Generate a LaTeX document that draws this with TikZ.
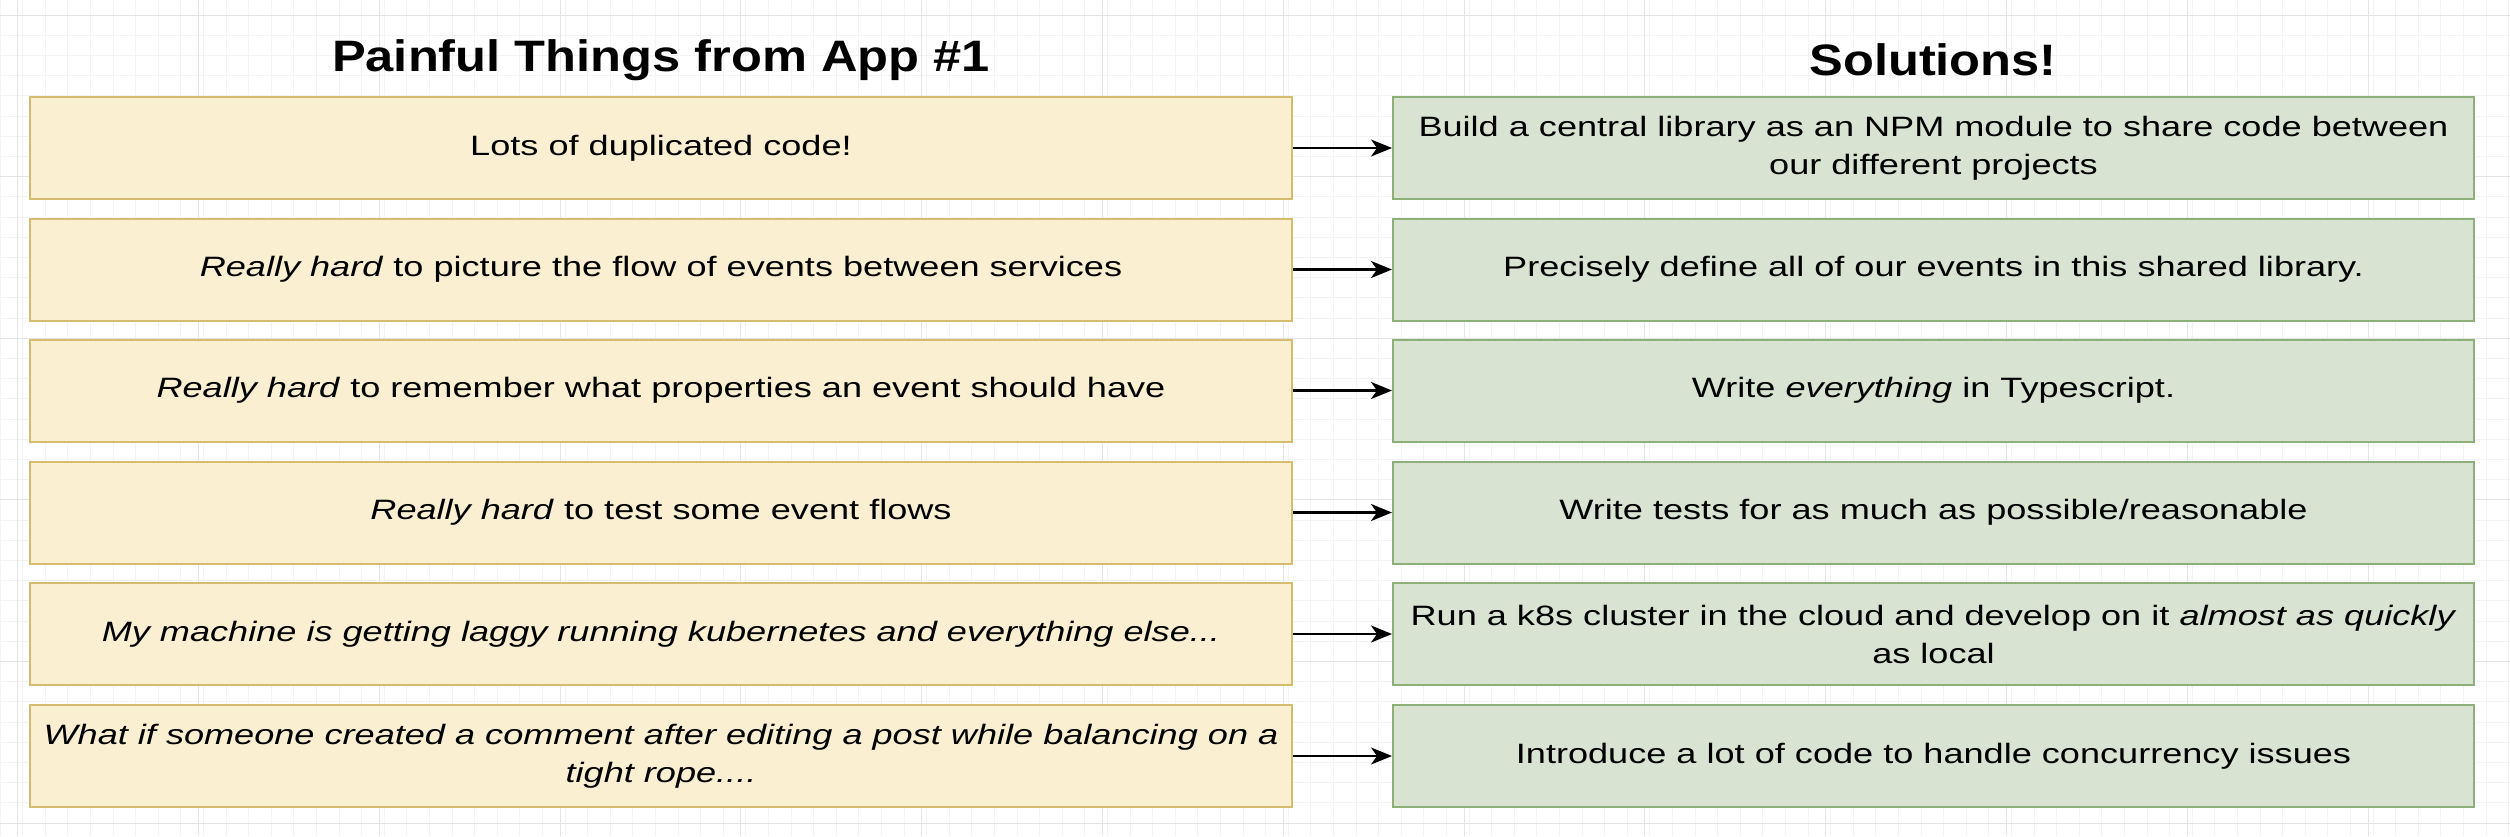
\documentclass[tikz,border=0pt]{standalone}
\usepackage{fontspec}
\setmainfont{Liberation Sans}[FakeStretch=1.29]
\newfontfamily\headfont{Liberation Sans}[FakeStretch=1.15]
\usetikzlibrary{arrows.meta}
\definecolor{yfill}{HTML}{FBEFD1}
\definecolor{ystroke}{HTML}{D6BC6E}
\definecolor{gfill}{HTML}{D8E3D2}
\definecolor{gstroke}{HTML}{8DB07A}
\definecolor{gridminor}{HTML}{F3F3F3}
\definecolor{gridmajor}{HTML}{E4E4E4}
\tikzset{
  painbox/.style={draw=ystroke, fill=yfill, line width=2pt, minimum width=1262pt, minimum height=102pt, align=center, inner sep=0pt, font=\fontsize{28}{38}\selectfont},
  solbox/.style={draw=gstroke, fill=gfill, line width=2pt, minimum width=1081pt, minimum height=102pt, align=center, inner sep=0pt, font=\fontsize{28}{38}\selectfont},
  heading/.style={font=\headfont\fontsize{44}{50}\selectfont\bfseries, inner sep=0pt},
  link/.style={draw=black, line width=2.7pt, -{Stealth[length=21pt,width=17pt,inset=6pt]}}
}
\begin{document}
\begin{tikzpicture}[x=1pt,y=-1pt]
\useasboundingbox (0,0) rectangle (2510,836);
\fill[white] (0,0) rectangle (2510,836);
% faint editor grid
\foreach \gx in {0,22.6,...,2510} {\draw[gridminor, line width=1pt] (\gx,0) -- (\gx,836);}
\foreach \gy in {15,35.2,...,836} {\draw[gridminor, line width=1pt] (0,\gy) -- (2510,\gy);}
\foreach \gx in {17.6,198.4,...,2510} {\draw[gridmajor, line width=1pt] (\gx,0) -- (\gx,836);}
\foreach \gy in {15,176.6,...,836} {\draw[gridmajor, line width=1pt] (0,\gy) -- (2510,\gy);}

\node[heading] (hl) at (661,60) {Painful Things from App \#1};
\node[heading] (hr) at (1933,60) {Solutions!};

\node[painbox] (p1) at (661,148) {Lots of duplicated code!};
\node[painbox] (p2) at (661,269.5) {\textit{Really hard} to picture the flow of events between services};
\node[painbox] (p3) at (661,390.5) {\textit{Really hard} to remember what properties an event should have};
\node[painbox] (p4) at (661,512.5) {\textit{Really hard} to test some event flows};
\node[painbox] (p5) at (661,634) {\textit{My machine is getting laggy running kubernetes and everything else...}};
\node[painbox] (p6) at (661,756) {\textit{What if someone created a comment after editing a post while balancing on a}\\\textit{tight rope....}};

\node[solbox] (s1) at (1933.5,148) {Build a central library as an NPM module to share code between\\our different projects};
\node[solbox] (s2) at (1933.5,269.5) {Precisely define all of our events in this shared library.};
\node[solbox] (s3) at (1933.5,390.5) {Write \textit{everything} in Typescript.};
\node[solbox] (s4) at (1933.5,512.5) {Write tests for as much as possible/reasonable};
\node[solbox] (s5) at (1933.5,634) {Run a k8s cluster in the cloud and develop on it \textit{almost as quickly}\\as local};
\node[solbox] (s6) at (1933.5,756) {Introduce a lot of code to handle concurrency issues};

\foreach \i in {1,...,6} {\draw[link] (p\i.east) -- (s\i.west);}
\end{tikzpicture}
\end{document}
